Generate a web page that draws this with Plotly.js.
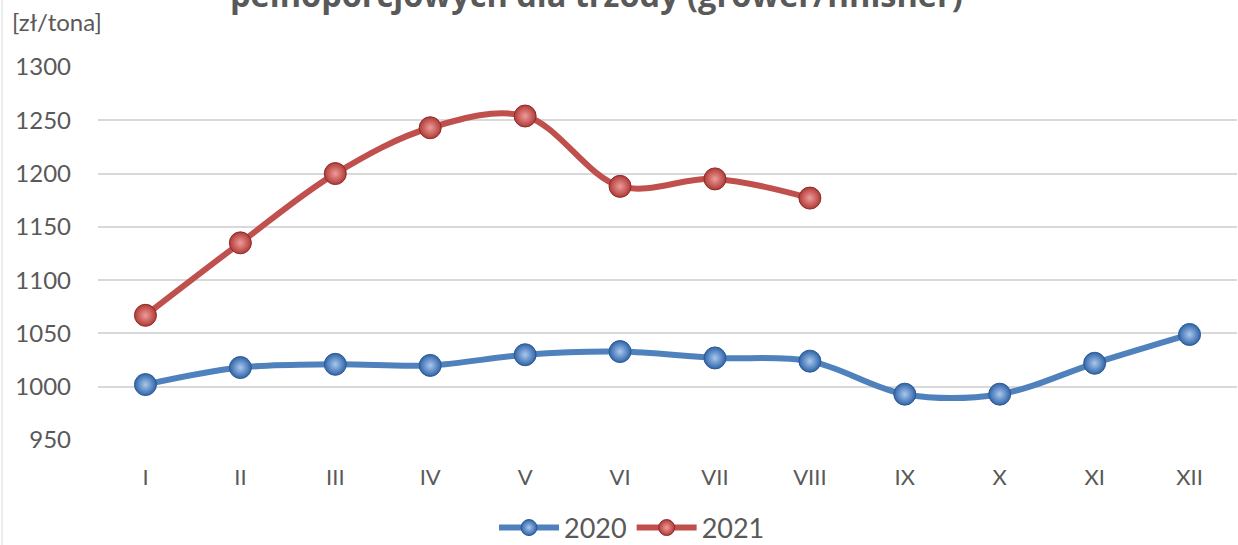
<!DOCTYPE html>
<html>
<head>
<meta charset="utf-8">
<script src="https://cdn.plot.ly/plotly-3.0.1.min.js"></script>
<style>
html,body{margin:0;padding:0;background:#fff;}
#chart{width:1238px;height:545px;}
</style>
</head>
<body>
<div id="chart"></div>
<script>
const months = ["I","II","III","IV","V","VI","VII","VIII","IX","X","XI","XII"];
const values2020 = [1002, 1018, 1021, 1020, 1030, 1033, 1027, 1024, 993, 993, 1022, 1049];
const months2021 = ["I","II","III","IV","V","VI","VII","VIII"];
const values2021 = [1067, 1135, 1200, 1243, 1254, 1188, 1195, 1177];
const yTicks = [950, 1000, 1050, 1100, 1150, 1200, 1250, 1300];
const titleText = "pełnoporcjowych dla trzody (grower/finisher)";
const unitText = "[zł/tona]";

const FONT = "Lato, 'Open Sans', sans-serif";
const GRAY = "#595959";

const traces = [
  {
    x: months, y: values2020, name: "2020", type: "scatter", mode: "lines+markers",
    line: {color: "#4F81BD", width: 6, shape: "spline", smoothing: 1},
    marker: {size: 22, color: "#2F64A8", gradient: {type: "radial", color: "#A9C8EE"},
             line: {color: "#2B5A93", width: 1}}
  },
  {
    x: months2021, y: values2021, name: "2021", type: "scatter", mode: "lines+markers",
    line: {color: "#C0504D", width: 6, shape: "spline", smoothing: 1},
    marker: {size: 22, color: "#B03A37", gradient: {type: "radial", color: "#EE9C99"},
             line: {color: "#8C2B29", width: 1}}
  }
];

const layout = {
  width: 1238, height: 545,
  margin: {l: 98, r: 1, t: 67, b: 105, autoexpand: false},
  paper_bgcolor: "#fff", plot_bgcolor: "#fff",
  font: {family: FONT, color: GRAY, size: 22},
  showlegend: true,
  legend: {orientation: "h", x: (632 - 98) / 1139, xanchor: "center",
           y: -(528 - 440) / 373, yanchor: "middle",
           font: {size: 27, color: GRAY}, itemwidth: 60, traceorder: "normal"},
  xaxis: {
    type: "category", categoryorder: "array", categoryarray: months,
    range: [-0.5, 11.5], showgrid: false, zeroline: false, showline: false,
    ticks: "", ticklabelstandoff: 22, tickfont: {size: 22, color: GRAY}
  },
  yaxis: {
    range: [950, 1300], tickvals: yTicks, ticktext: yTicks.map(String),
    showgrid: true, gridcolor: "#D9D9D9", gridwidth: 2, zeroline: false, showline: false,
    ticks: "", ticklabelstandoff: 26, tickfont: {size: 24, color: GRAY}
  },
  annotations: [
    {text: titleText, xref: "paper", yref: "paper", x: (596 - 98) / 1139, xanchor: "center",
     y: 1 + (67 - 19) / 373, yanchor: "bottom", showarrow: false,
     font: {size: 32.5, color: GRAY, family: "'Open Sans', sans-serif", weight: "bold"}},
    {text: unitText, xref: "paper", yref: "paper", x: -88/1139, xanchor: "left",
     y: 1 + (67 - 22) / 373, yanchor: "middle", showarrow: false,
     font: {size: 24, color: GRAY}}
  ],
  shapes: [
    {type: "line", xref: "paper", yref: "paper", x0: -96/1139, x1: -96/1139,
     y0: -105/373, y1: 1 + 67/373, line: {color: "#D9D9D9", width: 1}}
  ]
};

Plotly.newPlot("chart", traces, layout, {staticPlot: true, displayModeBar: false});
</script>
</body>
</html>
